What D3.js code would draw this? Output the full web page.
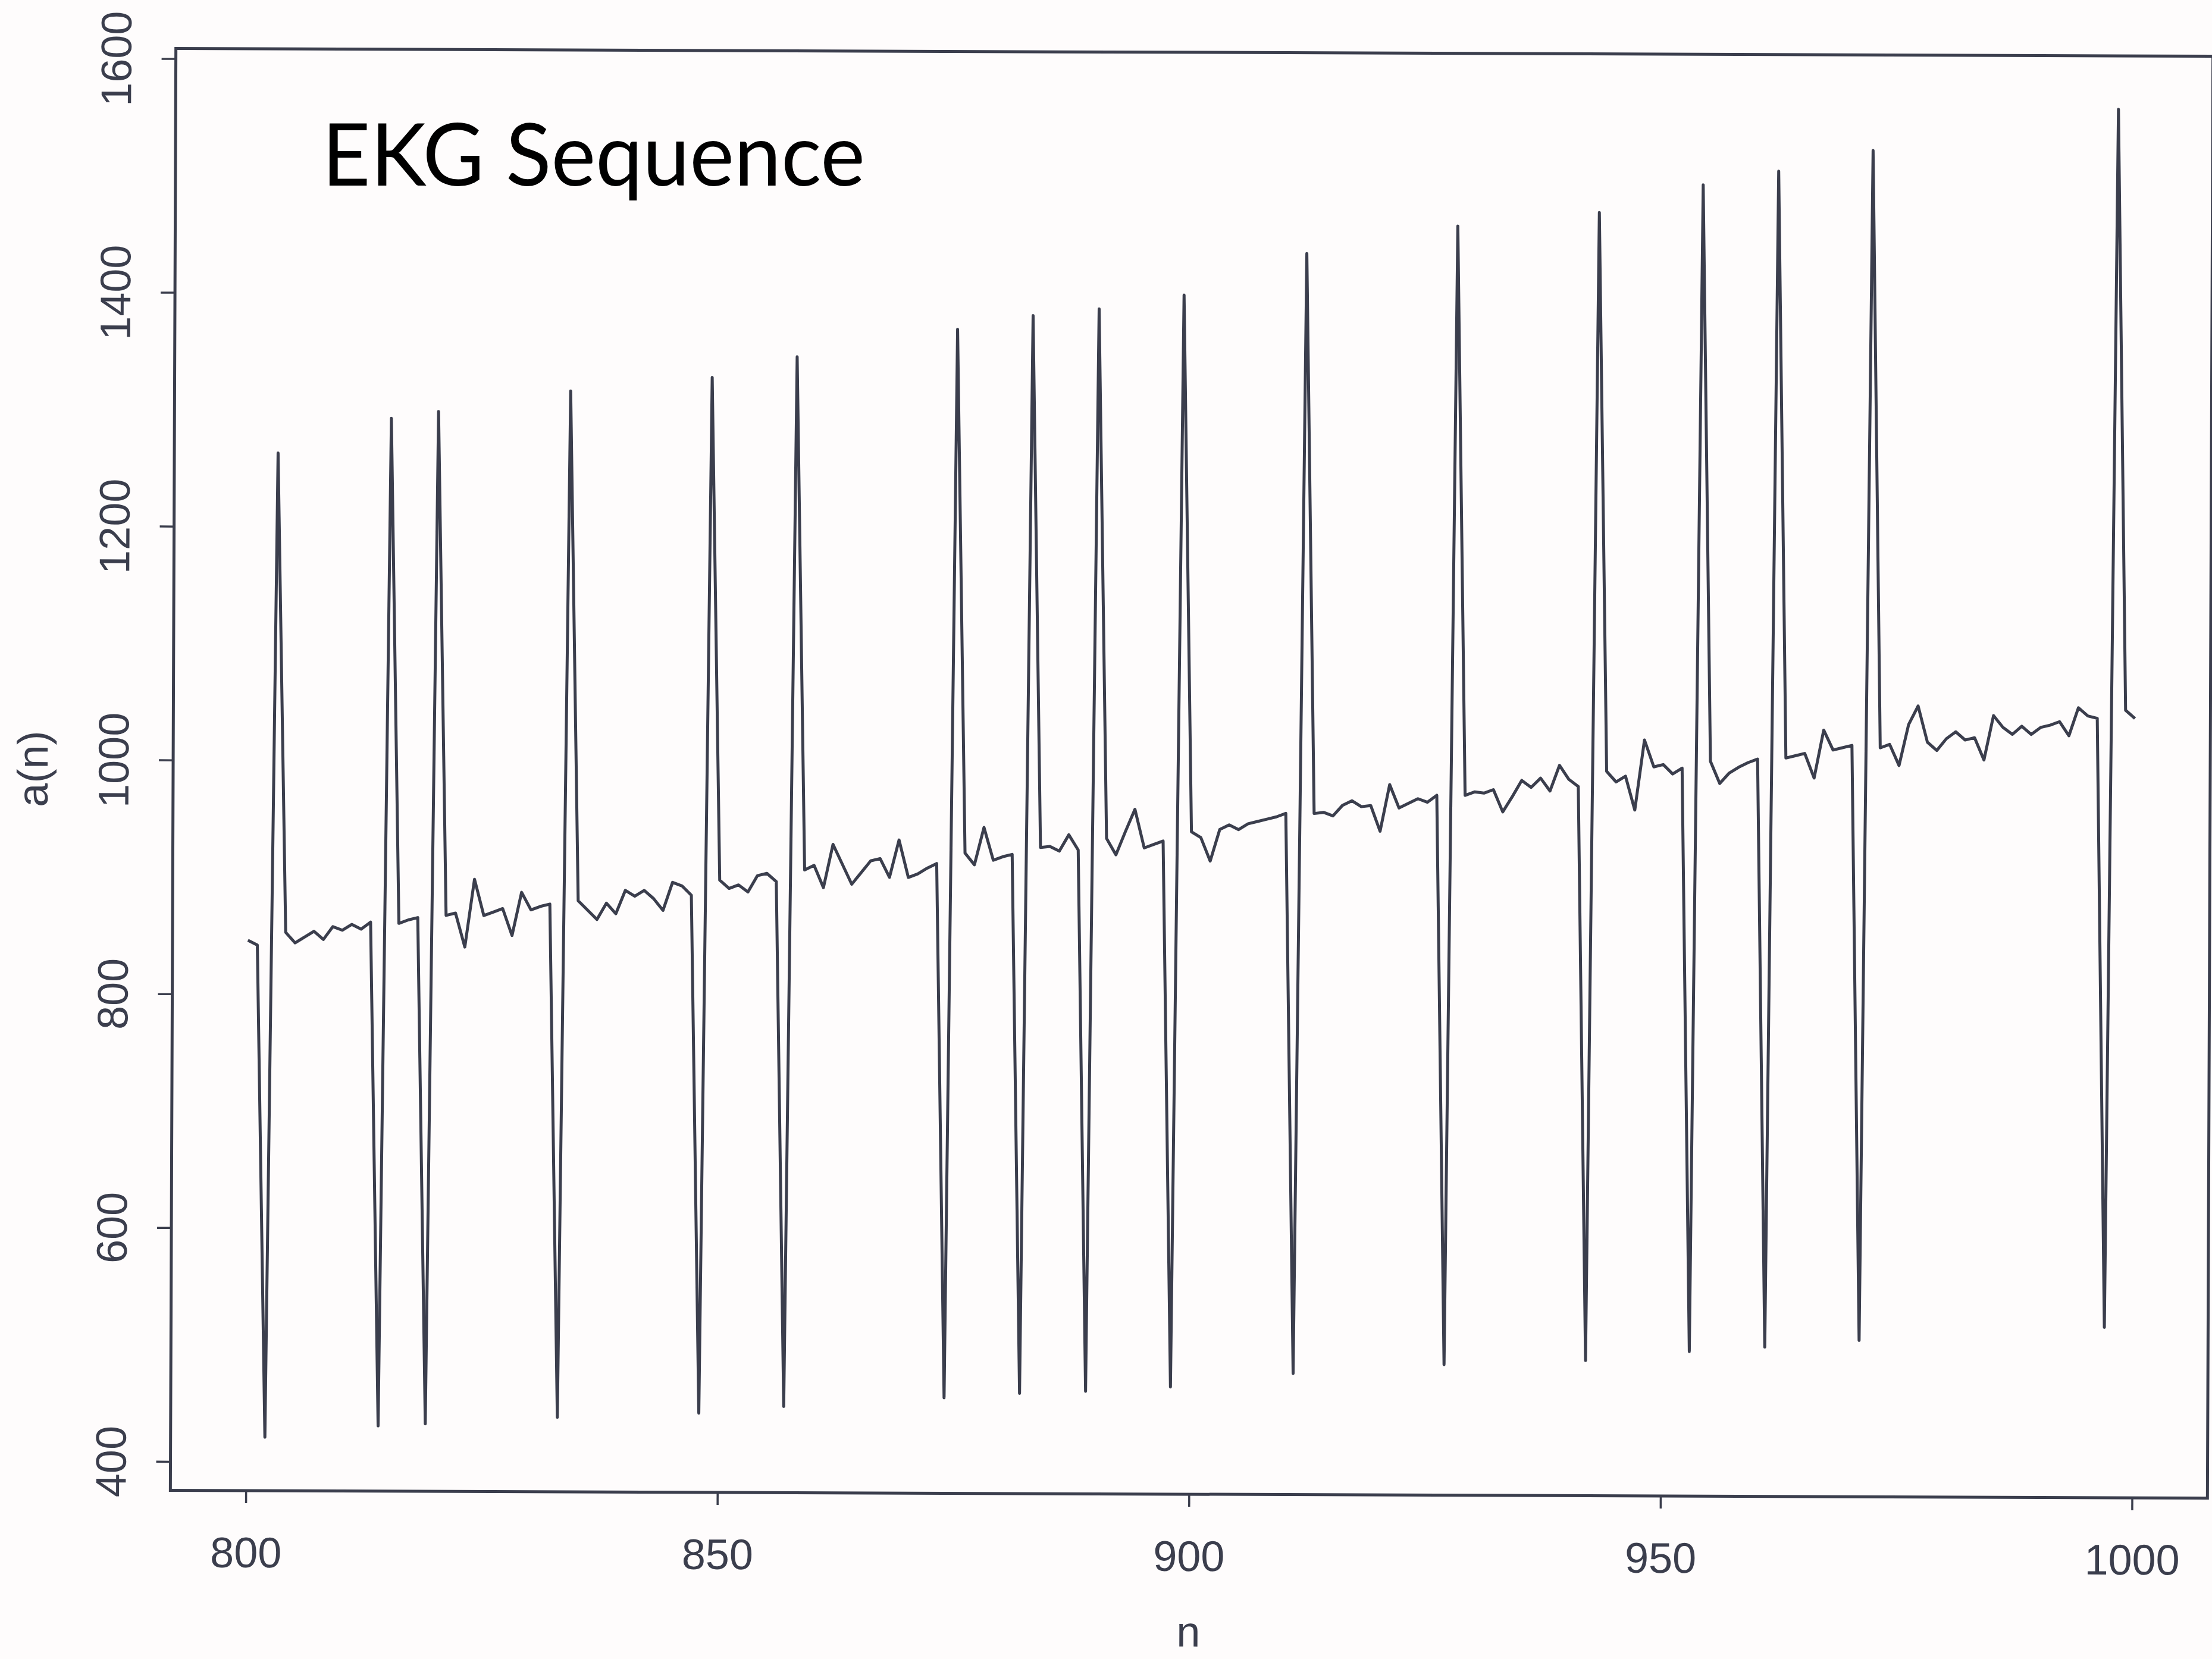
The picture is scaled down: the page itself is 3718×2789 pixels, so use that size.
<!DOCTYPE html>
<html>
<head>
<meta charset="utf-8">
<script src="https://cdn.jsdelivr.net/npm/d3@7"></script>
<style>
    body { margin: 0; background: #fefcfc; }
</style>
</head>
<body>
<div id="chart"></div>
<script>
// EKG sequence a(n) for n = 800 .. 1000
const nStart = 800;
const ekgValues = [
    846, 842, 421, 1263, 853, 844, 849, 854, 847, 858,
    855, 860, 856, 862, 431, 1293, 861, 864, 866, 433,
    1299, 868, 870, 841, 899, 868, 871, 874, 851, 888,
    873, 876, 878, 439, 1317, 881, 873, 865, 879, 870,
    890, 885, 890, 883, 873, 897, 894, 886, 443, 1329,
    899, 892, 895, 889, 903, 905, 898, 449, 1347, 908,
    912, 893, 930, 913, 896, 906, 916, 918, 902, 934,
    902, 905, 910, 914, 457, 1371, 923, 913, 945, 917,
    920, 922, 461, 1383, 928, 929, 925, 939, 926, 463,
    1389, 936, 922, 942, 961, 928, 931, 934, 467, 1401,
    942, 937, 917, 944, 948, 944, 949, 951, 953, 955,
    958, 479, 1437, 958, 959, 956, 965, 969, 964, 965,
    943, 983, 963, 967, 971, 968, 974, 487, 1461, 974,
    977, 976, 979, 960, 973, 987, 981, 989, 978, 1000,
    988, 982, 491, 1473, 995, 986, 991, 962, 1022, 999,
    1001, 993, 998, 499, 1497, 1004, 985, 994, 999, 1003,
    1006, 503, 1509, 1007, 1009, 1011, 990, 1031, 1014, 1016,
    1018, 509, 1527, 1016, 1019, 1001, 1036, 1052, 1021, 1014,
    1024, 1030, 1023, 1025, 1006, 1044, 1034, 1028, 1035, 1028,
    1034, 1036, 1039, 1027, 1051, 1044, 1042, 521, 1563, 1049,
    1042
];
const xTicks = [800, 850, 900, 950, 1000];
const yTicks = [400, 600, 800, 1000, 1200, 1400, 1600];
const chartTitle = "EKG Sequence";
const xLabel = "n";
const yLabel = "a(n)";

const width = 3718, height = 2789;
const frame = { left: 291, right: 3715, top: 88, bottom: 2512 };
const ink = "#3b3e4d";
const axisFont = "'Liberation Sans', Arial, Helvetica, sans-serif";

const svg = d3.select("#chart").append("svg")
    .attr("width", width)
    .attr("height", height);

svg.append("rect")
    .attr("width", width)
    .attr("height", height)
    .attr("fill", "#fefcfc");

// the scanned figure sits slightly rotated on the page
const cx = (frame.left + frame.right) / 2, cy = (frame.top + frame.bottom) / 2;
const plot = svg.append("g")
    .attr("transform", "rotate(0.22," + cx + "," + cy + ")");

const data = ekgValues.map(function(v, i) {
    return { n: nStart + i, v: v };
});

// R style 4% padding around the data range
function padded(ext) {
    let pad = (ext[1] - ext[0]) * 0.04;
    return [ext[0] - pad, ext[1] + pad];
}

const x = d3.scaleLinear()
    .domain(padded(d3.extent(data, d => d.n)))
    .range([frame.left, frame.right]);

const y = d3.scaleLinear()
    .domain(padded(d3.extent(data, d => d.v)))
    .range([frame.bottom, frame.top]);

// x axis
plot.append("g")
    .attr("transform", "translate(0," + frame.bottom + ")")
    .call(d3.axisBottom(x).tickValues(xTicks).tickFormat(d3.format("d"))
        .tickSize(21).tickSizeOuter(0))
    .call(g => g.select(".domain").remove())
    .call(g => g.selectAll("line").attr("stroke", ink).attr("stroke-width", 3.5))
    .call(g => g.selectAll("text")
        .attr("y", 129)
        .attr("dy", 0)
        .attr("fill", ink)
        .attr("font-size", 72)
        .attr("font-family", axisFont));

// y axis, labels turned like R's default
plot.append("g")
    .attr("transform", "translate(" + frame.left + ",0)")
    .call(d3.axisLeft(y).tickValues(yTicks).tickFormat(d3.format("d"))
        .tickSize(24).tickSizeOuter(0))
    .call(g => g.select(".domain").remove())
    .call(g => g.selectAll("line").attr("stroke", ink).attr("stroke-width", 3.5))
    .call(g => g.selectAll("text")
        .attr("x", 0)
        .attr("dy", 0)
        .attr("text-anchor", "middle")
        .attr("transform", "translate(-75,0) rotate(-90)")
        .attr("fill", ink)
        .attr("font-size", 72)
        .attr("font-family", axisFont));

// box
plot.append("rect")
    .attr("x", frame.left)
    .attr("y", frame.top)
    .attr("width", frame.right - frame.left)
    .attr("height", frame.bottom - frame.top)
    .attr("fill", "none")
    .attr("stroke", ink)
    .attr("stroke-width", 5);

let line = d3.line()
    .x(d => x(d.n))
    .y(d => y(d.v));

plot.append("path")
    .datum(data)
    .attr("fill", "none")
    .attr("stroke", ink)
    .attr("stroke-width", 5)
    .attr("stroke-linejoin", "round")
    .attr("d", line);

// axis titles
plot.append("text")
    .attr("x", cx)
    .attr("y", frame.bottom + 256)
    .attr("text-anchor", "middle")
    .attr("fill", ink)
    .attr("font-size", 72)
    .attr("font-family", axisFont)
    .text(xLabel);

plot.append("text")
    .attr("transform", "translate(80," + cy + ") rotate(-90)")
    .attr("text-anchor", "middle")
    .attr("fill", ink)
    .attr("font-size", 72)
    .attr("font-family", axisFont)
    .text(yLabel);

// slide title laid over the plot
svg.append("text")
    .attr("x", 541)
    .attr("y", 312)
    .attr("fill", "#000")
    .attr("font-size", 145)
    .attr("font-family", "Lato, 'Open Sans', sans-serif")
    .attr("textLength", 913)
    .attr("lengthAdjust", "spacingAndGlyphs")
    .text(chartTitle);
</script>
</body>
</html>
